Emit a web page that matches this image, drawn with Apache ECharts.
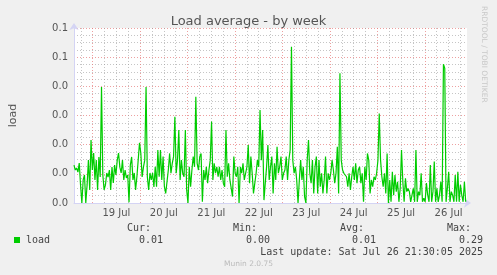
<!DOCTYPE html>
<html><head><meta charset="utf-8">
<script src="https://cdn.jsdelivr.net/npm/echarts@6/dist/echarts.min.js"></script>
<style>html,body{margin:0;padding:0;background:#f0f0f0;}#c{width:497px;height:275px;}</style>
</head><body><div id="c"></div>
<script>
// Time axis in hours since 18 Jul 00:00
const startHour = 14.55;
const endHour = 213.35;
const stepHours = 0.6627; // ~40 min samples
const dayLabels = ['19 Jul','20 Jul','21 Jul','22 Jul','23 Jul','24 Jul','25 Jul','26 Jul'];
const yTickLabels = ['0.0','0.0','0.0','0.0','0.0','0.1','0.1'];
const loadValues = [
 0.0130,0.0113,0.0120,0.0106,0.0137,0.0062,0.0000,0.0079,0.0096,0.0000,
 0.0062,0.0147,0.0045,0.0216,0.0113,0.0171,0.0079,0.0147,0.0045,0.0158,
 0.0089,0.0398,0.0096,0.0045,0.0062,0.0103,0.0089,0.0113,0.0045,0.0123,
 0.0069,0.0130,0.0096,0.0147,0.0171,0.0123,0.0103,0.0147,0.0079,0.0113,
 0.0086,0.0096,0.0003,0.0130,0.0158,0.0079,0.0103,0.0045,0.0089,0.0147,
 0.0206,0.0171,0.0089,0.0123,0.0147,0.0398,0.0089,0.0045,0.0103,0.0079,
 0.0103,0.0055,
 0.0124,0.0056,0.0182,0.0090,0.0182,0.0079,0.0159,0.0056,0.0033,0.0033,
 0.0113,0.0170,0.0102,0.0136,0.0159,0.0296,0.0102,0.0147,0.0250,0.0079,
 0.0147,0.0102,0.0090,0.0250,0.0045,0.0000,0.0124,0.0056,0.0113,0.0159,
 0.0124,0.0364,0.0136,0.0113,0.0159,0.0170,0.0004,0.0113,0.0079,0.0124,
 0.0068,0.0113,0.0147,0.0279,0.0079,0.0136,0.0102,0.0124,0.0090,0.0124,
 0.0079,0.0113,0.0068,0.0056,0.0250,0.0090,0.0136,0.0079,0.0079,0.0022,
 0.0159,0.0102,0.0090,0.0124,0.0000,0.0124,0.0102,0.0136,0.0079,0.0102,
 0.0124,0.0199,0.0068,0.0159,0.0102,0.0033,0.0033,0.0102,0.0147,0.0124,
 0.0319,0.0147,0.0250,0.0010,0.0068,0.0124,0.0199,0.0079,0.0124,0.0159,
 0.0033,0.0136,0.0079,0.0193,0.0102,0.0124,0.0159,0.0079,0.0102,0.0113,
 0.0159,0.0079,0.0147,0.0182,0.0536,0.0147,0.0102,0.0124,0.0079,0.0000,
 0.0079,0.0147,0.0079,0.0124,0.0022,0.0000,0.0147,0.0216,0.0102,0.0068,
 0.0147,0.0033,0.0124,0.0159,0.0033,0.0147,0.0056,0.0102,0.0033,0.0079,
 0.0159,0.0033,0.0102,0.0079,0.0102,0.0147,0.0113,0.0068,0.0102,0.0193,
 0.0033,0.0445,0.0147,0.0113,0.0102,0.0102,0.0090,0.0056,0.0102,0.0045,
 0.0090,0.0124,0.0079,0.0136,0.0068,0.0113,0.0124,0.0068,0.0102,0.0004,
 0.0124,0.0079,0.0170,0.0147,0.0033,0.0079,0.0056,0.0090,0.0079,0.0102,
 0.0147,0.0307,0.0147,0.0090,0.0056,0.0102,0.0033,0.0170,0.0000,0.0079,
 0.0004,0.0107,0.0027,0.0096,0.0039,0.0073,0.0004,0.0050,0.0182,0.0073,
 0.0004,0.0085,0.0039,0.0050,0.0039,0.0004,0.0027,0.0050,0.0004,0.0182,
 0.0004,0.0039,0.0027,0.0102,0.0004,0.0016,0.0004,0.0068,0.0027,0.0004,
 0.0130,0.0004,0.0039,0.0142,0.0004,0.0050,0.0004,0.0027,0.0073,0.0004,
 0.0476,0.0462,0.0004,0.0050,0.0107,0.0004,0.0039,0.0027,0.0004,0.0096,
 0.0004,0.0107,0.0004,0.0062,0.0027,0.0004,0.0073,0.0004
];
const legendName = 'load';
const legendStats = {cur:'0.01', min:'0.00', avg:'0.01', max:'0.29'};
const lastUpdate = 'Last update: Sat Jul 26 21:30:05 2025';

const seriesData = loadValues.map((v,i)=>[startHour + i*stepHours, v]);
const minorHours = [], majorHours = [], noonHours = [];
for (let h = 18; h < endHour; h += 6) { if (h % 24 !== 0) minorHours.push(h); }
for (let h = 24; h < endHour; h += 24) majorHours.push(h);
for (let h = 36; h < endHour; h += 24) noonHours.push(h);

const axisCol = '#d4d4f4';
const mono = '"DejaVu Sans Mono", monospace';
const sans = '"DejaVu Sans", sans-serif';

const chart = echarts.init(document.getElementById('c'), null, {renderer:'canvas'});
chart.setOption({
  backgroundColor:'#f0f0f0',
  animation:false,
  title:{text:'Load average - by week', left:'center', top:10,
    textStyle:{fontFamily:sans, fontSize:13, fontWeight:'normal', color:'#555'}},
  grid:{left:67, right:30, top:28, bottom:72, show:true, backgroundColor:'#ffffff', borderWidth:0},
  xAxis:[{
    type:'value', min:startHour, max:endHour,
    axisLine:{show:true, lineStyle:{color:axisCol, width:1}, symbol:['none','arrow'], symbolSize:[7,7], symbolOffset:[0,4]},
    axisTick:{show:true, inside:true, length:175, customValues:minorHours,
      lineStyle:{color:'rgba(150,150,150,0.55)', type:[1,2], width:1}},
    axisLabel:{show:true, customValues:noonHours, margin:5,
      formatter:(v)=>dayLabels[Math.round((v-36)/24)],
      fontFamily:sans, fontSize:10, color:'#555'},
    splitLine:{show:false}
  },{
    type:'value', min:startHour, max:endHour, position:'bottom',
    axisLine:{show:false},
    axisTick:{show:true, inside:true, length:175, customValues:majorHours,
      lineStyle:{color:'rgba(230,120,120,0.7)', type:[1,2], width:1}},
    axisLabel:{show:false}, splitLine:{show:false}
  }],
  yAxis:{
    type:'value', min:0, max:0.06, interval:0.01,
    name:'load', nameLocation:'middle', nameGap:55, nameRotate:90,
    nameTextStyle:{fontFamily:sans, fontSize:11, color:'#555'},
    axisLine:{show:true, lineStyle:{color:axisCol, width:1}, symbol:['none','arrow'], symbolSize:[7,7], symbolOffset:[0,5]},
    axisTick:{show:false},
    axisLabel:{formatter:(v)=>yTickLabels[Math.round(v/0.01)], fontFamily:sans, fontSize:10, color:'#555', margin:6},
    splitLine:{show:true, lineStyle:{color:'rgba(230,120,120,0.7)', type:[1,2], width:1}},
    minorTick:{show:false, splitNumber:4},
    minorSplitLine:{show:true, lineStyle:{color:'rgba(150,150,150,0.55)', type:[1,2], width:1}}
  },
  series:[{
    type:'line', name:legendName, data:seriesData, showSymbol:false, symbol:'none',
    lineStyle:{color:'#00cc00', width:1.2}, xAxisIndex:0, z:5
  }],
  graphic:[
    {type:'text', left:480, top:6, rotation:-Math.PI/2, originX:0, originY:0,
     style:{text:'RRDTOOL / TOBI OETIKER', fontFamily:sans, fontSize:7.5, fill:'#c8c8c8'}},
    {type:'rect', shape:{x:14, y:237, width:6, height:6}, style:{fill:'#00cc00'}},
    {type:'text', left:26, top:235, style:{text:legendName, fontFamily:mono, fontSize:10, fill:'#444'}},
    {type:'text', left:127, top:223, style:{text:'Cur:', fontFamily:mono, fontSize:10, fill:'#444'}},
    {type:'text', left:233, top:223, style:{text:'Min:', fontFamily:mono, fontSize:10, fill:'#444'}},
    {type:'text', left:340, top:223, style:{text:'Avg:', fontFamily:mono, fontSize:10, fill:'#444'}},
    {type:'text', left:447, top:223, style:{text:'Max:', fontFamily:mono, fontSize:10, fill:'#444'}},
    {type:'text', left:139, top:235, style:{text:legendStats.cur, fontFamily:mono, fontSize:10, fill:'#444'}},
    {type:'text', left:246, top:235, style:{text:legendStats.min, fontFamily:mono, fontSize:10, fill:'#444'}},
    {type:'text', left:352, top:235, style:{text:legendStats.avg, fontFamily:mono, fontSize:10, fill:'#444'}},
    {type:'text', left:459, top:235, style:{text:legendStats.max, fontFamily:mono, fontSize:10, fill:'#444'}},
    {type:'text', right:14, top:247, style:{text:lastUpdate, fontFamily:mono, fontSize:10, fill:'#444'}},
    {type:'text', left:'center', top:260, style:{text:'Munin 2.0.75', fontFamily:sans, fontSize:7.5, fill:'#bbbbbb'}}
  ]
});
</script></body></html>
